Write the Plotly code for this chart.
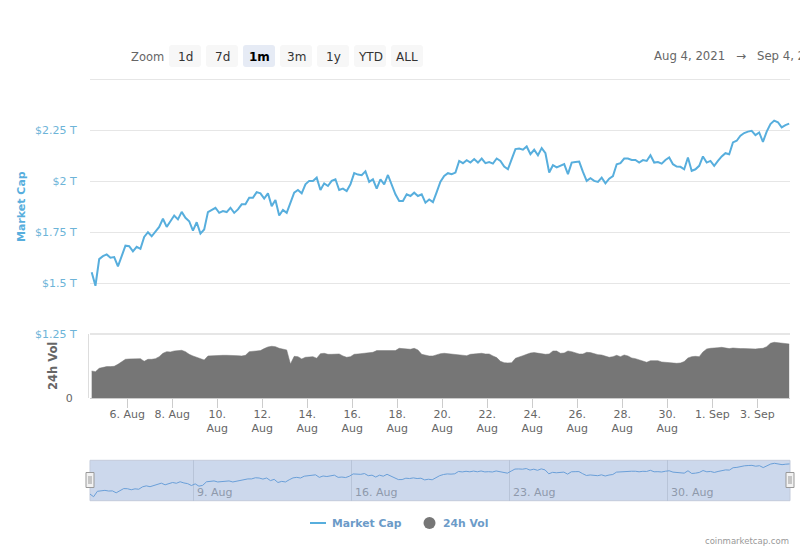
"""Market cap / 24h volume chart, Aug 4 - Sep 4 2021."""
import pandas as pd
import plotly.graph_objects as go

FONT = "DejaVu Sans"
W, H = 800, 550

# market cap in $B, one reading every 4 hours
market_cap = [
    1553, 1487, 1618, 1632, 1641, 1625, 1628, 1582, 1632, 1684, 1681, 1656, 1678, 1668, 1727, 1750,
    1730, 1755, 1776, 1816, 1776, 1804, 1832, 1813, 1850, 1821, 1804, 1758, 1799, 1743, 1763, 1849,
    1859, 1870, 1845, 1854, 1849, 1870, 1845, 1862, 1887, 1887, 1919, 1919, 1947, 1941, 1915, 1941,
    1878, 1908, 1832, 1859, 1845, 1898, 1944, 1957, 1941, 1985, 2002, 2002, 2018, 1957, 1990, 1977,
    2002, 2010, 1957, 1964, 1952, 1985, 2040, 2033, 2030, 2049, 1997, 2010, 1964, 2010, 1985, 2031,
    1985, 1936, 1903, 1903, 1936, 1928, 1944, 1928, 1936, 1895, 1911, 1898, 1947, 1998, 2026, 2040,
    2035, 2043, 2100, 2089, 2104, 2092, 2109, 2092, 2112, 2089, 2095, 2087, 2112, 2100, 2072, 2059,
    2109, 2158, 2161, 2155, 2171, 2133, 2155, 2128, 2163, 2138, 2043, 2079, 2068, 2076, 2084, 2035,
    2092, 2095, 2097, 2046, 2002, 2015, 2002, 1997, 2018, 1990, 2013, 2026, 2084, 2089, 2112, 2112,
    2105, 2105, 2092, 2104, 2100, 2128, 2092, 2095, 2087, 2105, 2117, 2084, 2072, 2071, 2059, 2117,
    2051, 2059, 2076, 2122, 2092, 2100, 2076, 2100, 2122, 2138, 2133, 2191, 2199, 2224, 2237, 2244,
    2248, 2227, 2240, 2194, 2244, 2281, 2298, 2290, 2265, 2276, 2283,
]
# 24h volume, on the same 0 - 1250 scale as the lower panel
volume = [
    531, 518, 583, 603, 616, 616, 622, 661, 713, 758, 765, 771, 771, 771, 719, 758,
    758, 771, 810, 875, 907, 901, 920, 933, 933, 907, 855, 823, 797, 784, 745, 823,
    829, 836, 836, 836, 836, 829, 829, 829, 823, 836, 907, 914, 914, 927, 966, 998,
    1011, 1004, 972, 959, 940, 667, 816, 810, 765, 797, 810, 810, 778, 868, 875, 855,
    855, 862, 862, 823, 797, 810, 855, 862, 868, 875, 894, 894, 927, 927, 927, 940,
    940, 927, 972, 966, 953, 953, 972, 940, 855, 836, 823, 823, 849, 868, 875, 868,
    862, 849, 855, 842, 829, 855, 862, 881, 875, 862, 862, 823, 791, 719, 693, 687,
    693, 778, 810, 829, 855, 881, 888, 875, 862, 855, 862, 920, 920, 875, 881, 920,
    907, 888, 862, 862, 894, 888, 862, 849, 842, 823, 797, 810, 836, 810, 842, 823,
    784, 771, 745, 713, 700, 732, 739, 732, 706, 700, 687, 687, 680, 687, 713, 784,
    810, 816, 810, 901, 959, 972, 972, 985, 991, 985, 966, 978, 966, 966, 966, 959,
    959, 959, 966, 972, 1004, 1069, 1089, 1082, 1076, 1069, 1056,
]
times = pd.date_range("2021-08-04 10:00", periods=len(market_cap), freq="4h")

cap_ticks = [1250, 1500, 1750, 2000, 2250, 2500]
cap_labels = ["$1.25 T", "$1.5 T", "$1.75 T", "$2 T", "$2.25 T", ""]
date_ticks = ["2021-08-06", "2021-08-08", "2021-08-10", "2021-08-12", "2021-08-14", "2021-08-16",
              "2021-08-18", "2021-08-20", "2021-08-22", "2021-08-24", "2021-08-26", "2021-08-28",
              "2021-08-30", "2021-09-01", "2021-09-03"]
date_labels = ["6. Aug", "8. Aug", "10.<br>Aug", "12.<br>Aug", "14.<br>Aug", "16.<br>Aug",
               "18.<br>Aug", "20.<br>Aug", "22.<br>Aug", "24.<br>Aug", "26.<br>Aug", "28.<br>Aug",
               "30.<br>Aug", "1. Sep", "3. Sep"]
nav_ticks = ["2021-08-09", "2021-08-16", "2021-08-23", "2021-08-30"]
nav_labels = ["9. Aug", "16. Aug", "23. Aug", "30. Aug"]
zoom_buttons = ["1d", "7d", "1m", "3m", "1y", "YTD", "ALL"]


def px(x):
    return x / W


def py(y):
    return 1 - y / H


def text(x, y, s, size=11, color="#666666", anchor="center", **kw):
    return dict(x=px(x), y=py(y), xref="paper", yref="paper", text=s, showarrow=False,
                xanchor=anchor, yanchor="middle", font=dict(family=FONT, size=size, color=color), **kw)


def rect(x0, y0, x1, y1, **kw):
    return dict(type="rect", xref="paper", yref="paper", x0=px(x0), x1=px(x1), y0=py(y0), y1=py(y1), **kw)


def round_rect(x0, y0, x1, y1, r, fill):
    pts = [("M", x0 + r, y0), ("L", x1 - r, y0), ("Q", x1, y0, x1, y0 + r), ("L", x1, y1 - r),
           ("Q", x1, y1, x1 - r, y1), ("L", x0 + r, y1), ("Q", x0, y1, x0, y1 - r), ("L", x0, y0 + r),
           ("Q", x0, y0, x0 + r, y0)]
    parts = []
    for p in pts:
        coords = [f"{px(p[i])},{py(p[i + 1])}" for i in range(1, len(p), 2)]
        parts.append(p[0] + " ".join(coords))
    return dict(type="path", xref="paper", yref="paper", path=" ".join(parts) + " Z",
                fillcolor=fill, line=dict(width=0))


def hline(x0, x1, y, color, width):
    return dict(type="line", xref="paper", yref="paper", x0=px(x0), x1=px(x1), y0=py(y), y1=py(y),
                line=dict(color=color, width=width))


def vline(x, y0, y1, color, width):
    return dict(type="line", xref="paper", yref="paper", x0=px(x), x1=px(x), y0=py(y0), y1=py(y1),
                line=dict(color=color, width=width))


fig = go.Figure()
fig.add_trace(go.Scatter(x=times, y=market_cap, xaxis="x", yaxis="y", mode="lines",
                         line=dict(color="#57aedd", width=2)))
fig.add_trace(go.Scatter(x=times, y=volume, xaxis="x2", yaxis="y2", mode="lines", fill="tozeroy",
                         fillcolor="#767676", line=dict(color="#767676", width=0.5)))
fig.add_trace(go.Scatter(x=times, y=market_cap, xaxis="x3", yaxis="y3", mode="lines",
                         line=dict(color="#6a9fd8", width=1)))

shapes = [
    rect(90, 460.3, 790, 500.7, fillcolor="#ccd8ec", line=dict(color="#c3cbdb", width=1), layer="below"),
    hline(90, 790, 79.5, "#e6e6e6", 1),
    hline(90, 790, 334, "#e6e6e6", 2),
    vline(88.5, 334, 398, "#dddddd", 1),
    hline(310, 326, 523, "#57aedd", 2),
    dict(type="circle", xref="paper", yref="paper", x0=px(423.5), x1=px(435.5), y0=py(529), y1=py(517),
         fillcolor="#767676", line=dict(width=0)),
]
annotations = [
    text(147, 57, "Zoom", size=11.5),
    text(651.5, 56, "Aug 4, 2021", size=11.7, anchor="left"),
    text(741, 56, "→", size=12),
    text(754.5, 56, "Sep 4, 2021", size=11.7, anchor="left"),
    text(21, 207, "<b>Market Cap</b>", size=11, color="#57aedd", textangle=-90),
    text(53, 366, "<b>24h Vol</b>", size=11.5, color="#666666", textangle=-90),
    text(329.5, 523, "<b>Market Cap</b>", size=10.8, color="#6c9bc8", anchor="left"),
    text(440.5, 523, "<b>24h Vol</b>", size=10.8, color="#6c9bc8", anchor="left"),
    text(790.5, 541, "coinmarketcap.com", size=8.5, color="#999999", anchor="right"),
]

# range selector buttons
for i, label in enumerate(zoom_buttons):
    x0 = 169 + i * 37
    selected = label == "1m"
    shapes.append(round_rect(x0, 45, x0 + 32, 67, 3, "#e6ebf5" if selected else "#f7f7f7"))
    shown = f"<b>{label}</b>" if selected else label
    annotations.append(text(x0 + 16, 56.5, shown, size=12, color="#000000" if selected else "#333333"))

# navigator handles
for x in (90, 790):
    shapes.append(rect(x - 4, 472.5, x + 4, 487.5, fillcolor="#f2f2f2", line=dict(color="#999999", width=1)))
    shapes.append(vline(x - 1, 476, 484, "#999999", 1))
    shapes.append(vline(x + 1, 476, 484, "#999999", 1))

for tick, label in zip(nav_ticks, nav_labels):
    annotations.append(dict(x=tick, y=py(492), xref="x3", yref="paper", text=label, showarrow=False,
                            xanchor="left", xshift=2, yanchor="middle",
                            font=dict(family=FONT, size=11, color="#8e99ab")))

fig.update_layout(
    width=W, height=H, autosize=False, showlegend=False,
    margin=dict(l=0, r=0, t=0, b=0, autoexpand=False),
    paper_bgcolor="white", plot_bgcolor="rgba(0,0,0,0)",
    shapes=shapes, annotations=annotations,
    font=dict(family=FONT, size=11, color="#666666"),
    xaxis=dict(domain=[px(90), px(790)], anchor="y", type="date",
               range=["2021-08-04 08:12", "2021-09-04 10:52"],
               showticklabels=False, showgrid=False, zeroline=False, ticks=""),
    yaxis=dict(domain=[py(334), py(79.5)], anchor="x", range=[1250, 2500],
               tickmode="array", tickvals=cap_ticks, ticktext=cap_labels,
               tickfont=dict(family=FONT, size=11, color="#6db4d8"),
               showgrid=True, gridcolor="#e6e6e6", gridwidth=1, zeroline=False,
               ticks="outside", ticklen=10, tickcolor="rgba(0,0,0,0)"),
    xaxis2=dict(domain=[px(90), px(790)], anchor="y2", type="date",
                range=["2021-08-04 08:12", "2021-09-04 10:52"],
                tickmode="array", tickvals=date_ticks, ticktext=date_labels,
                tickfont=dict(family=FONT, size=11, color="#666666"), tickangle=0,
                ticks="outside", ticklen=9, tickcolor="#cccccc", ticklabelstandoff=-4,
                showline=True, linecolor="#cccccc", showgrid=False, zeroline=False),
    yaxis2=dict(domain=[py(398.3), py(334)], anchor="x2", range=[0, 1250],
                tickmode="array", tickvals=[0], ticktext=["0"],
                tickfont=dict(family=FONT, size=11, color="#666666"),
                showgrid=False, zeroline=False,
                ticks="outside", ticklen=14, tickcolor="rgba(0,0,0,0)"),
    xaxis3=dict(domain=[px(90), px(790)], anchor="y3", type="date",
                range=["2021-08-04 10:09", "2021-09-04 10:28"],
                tickmode="array", tickvals=nav_ticks, showticklabels=False, ticks="",
                showgrid=True, gridcolor="#b8c4d8", gridwidth=1, zeroline=False),
    yaxis3=dict(domain=[py(500.7), py(460.3)], anchor="x3", range=[1390, 2371],
                showticklabels=False, showgrid=False, zeroline=False, ticks=""),
)

# the page's default body margin would push the chart off its place
fig.write_html("out.html", config={"displayModeBar": False},
               post_script="document.body.style.margin = '0';")
